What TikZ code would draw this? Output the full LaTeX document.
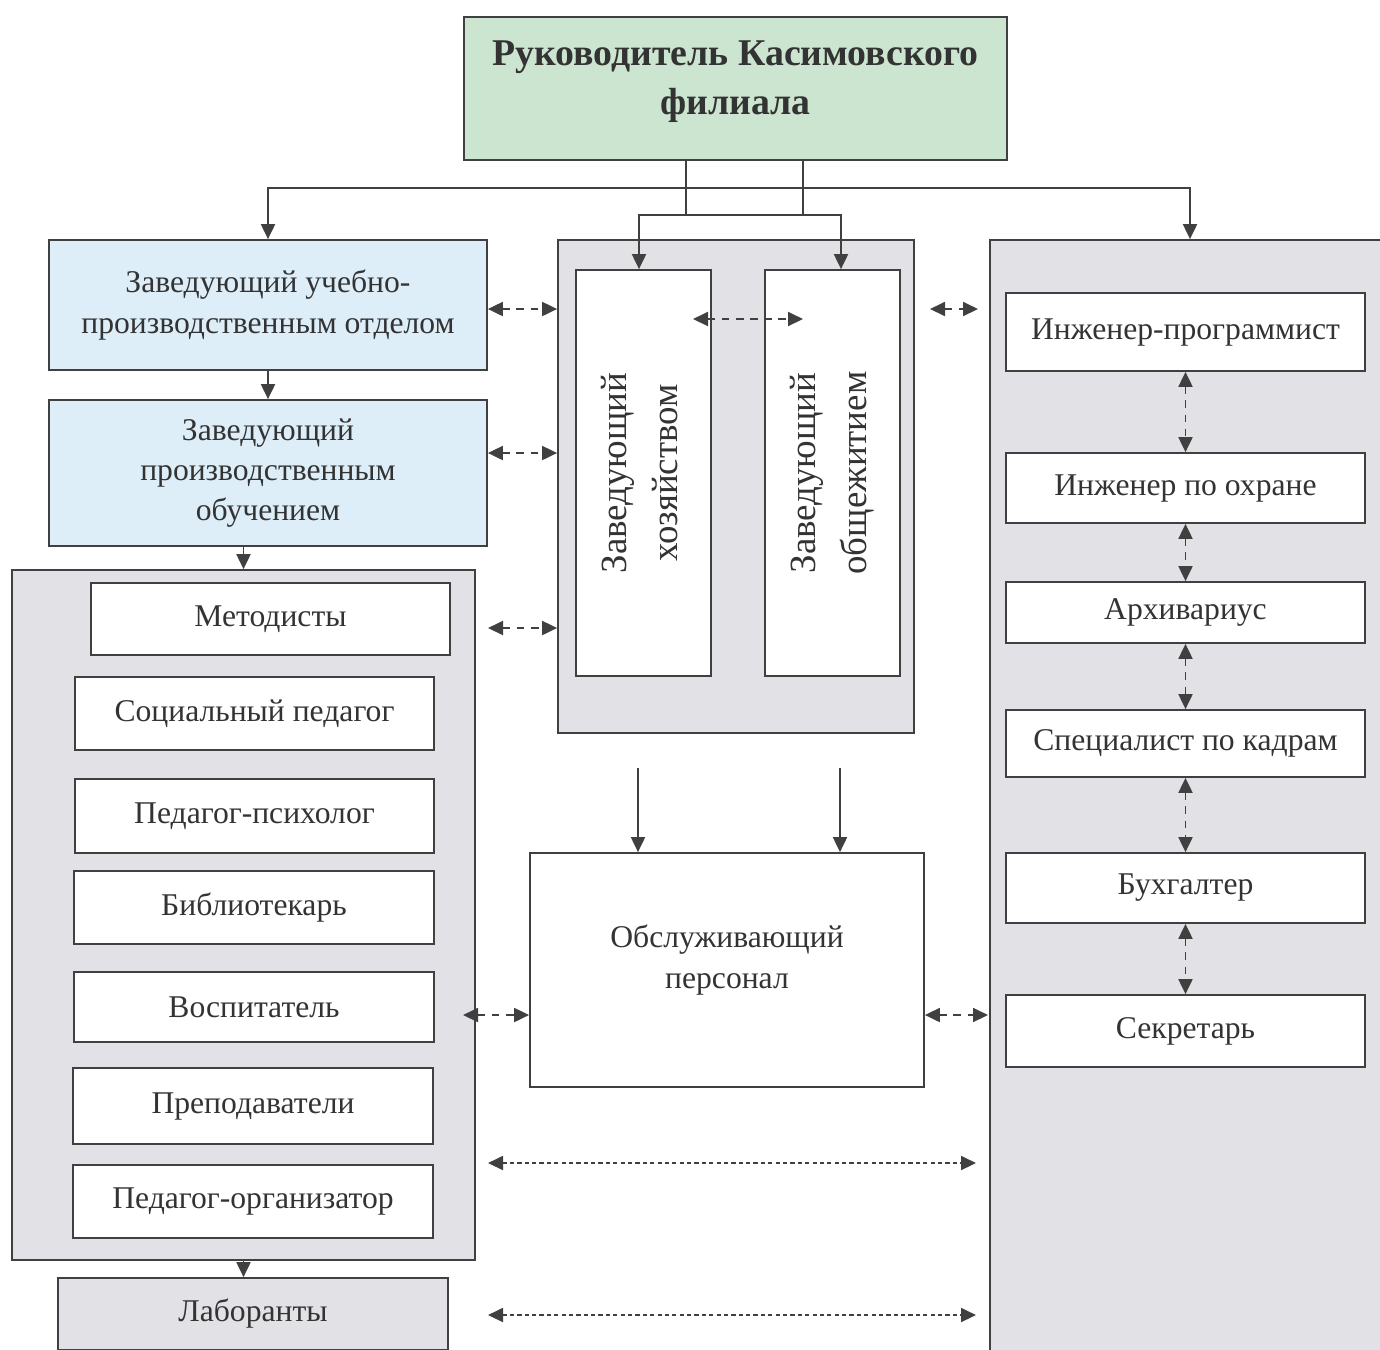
\documentclass[tikz,border=0pt]{standalone}
\usepackage{fontspec}
\usepackage{graphicx}
\setmainfont{Liberation Serif}
\usetikzlibrary{arrows.meta}
\definecolor{headgreen}{RGB}{204,229,209}
\definecolor{headblue}{RGB}{221,238,249}
\definecolor{panelgrey}{RGB}{226,226,230}

\begin{document}
\begin{tikzpicture}[x=0.2mm, y=-0.2mm,
    every node/.style={font=\fontsize{18}{23}\selectfont, text=black!80, align=center},
    box/.style={draw=black!75, line width=1pt, fill=white, inner sep=0pt},
    headbox/.style={box, fill=headgreen},
    bluebox/.style={box, fill=headblue},
    panel/.style={box, fill=panelgrey},
    line/.style={draw=black!75, line width=1.1pt},
    arr/.style={line, -{Triangle[length=3mm,width=2.8mm]}},
    twoway/.style={line, {Triangle[length=3mm,width=2.8mm]}-{Triangle[length=3mm,width=2.8mm]}},
    dd/.style={twoway, dash pattern=on 4.5pt off 3.5pt},
    fine/.style={twoway, dash pattern=on 2.4pt off 1.8pt}]
    \useasboundingbox (0,0) rectangle (1380,1349);

    % Head %
    \node[headbox, minimum width=108.6mm, minimum height=28.6mm, font=\bfseries\fontsize{21.5}{28}\selectfont] (head) at (735.5,88.5) {Руководитель Касимовского\\филиала\\[-16pt]};

    % Left column %
    \node[bluebox, minimum width=87.6mm, minimum height=26mm] (uchotd) at (268,305) {Заведующий учебно-\\производственным отделом};
    \node[bluebox, minimum width=87.6mm, minimum height=29.2mm] (proizv) at (268,473) {Заведующий\\производственным\\обучением};
    \node[panel, minimum width=92.6mm, minimum height=138mm] (lpanel) at (243.5,915) {};
    \node[box, minimum width=71.8mm, minimum height=14.4mm] (metod) at (270.5,619) {Методисты};
    \node[box, minimum width=71.8mm, minimum height=14.6mm] (socped) at (254.5,713.5) {Социальный педагог};
    \node[box, minimum width=71.8mm, minimum height=14.8mm] (psih) at (254.5,816) {Педагог-психолог};
    \node[box, minimum width=72mm, minimum height=14.6mm] (bibl) at (254,907.5) {Библиотекарь};
    \node[box, minimum width=72mm, minimum height=14mm] (vosp) at (254,1007) {Воспитатель};
    \node[box, minimum width=72mm, minimum height=15.2mm] (prep) at (253,1106) {Преподаватели};
    \node[box, minimum width=72mm, minimum height=14.6mm] (pedorg) at (253,1201.5) {Педагог-организатор};
    \node[panel, minimum width=78mm, minimum height=14.4mm] (labor) at (253,1314) {Лаборанты};

    % Middle column %
    \node[panel, minimum width=71.2mm, minimum height=98.6mm] (mpanel) at (736,486.5) {};
    \node[box, minimum width=27mm, minimum height=81.2mm, font=\fontsize{21}{25}\selectfont] (hoz) at (643.5,473) {\rotatebox{90}{\begin{tabular}{@{}c@{}}Заведующий\\[4pt]хозяйством\end{tabular}}};
    \node[box, minimum width=27mm, minimum height=81.2mm, font=\fontsize{21}{25}\selectfont] (obsh) at (832.5,473) {\rotatebox{90}{\begin{tabular}{@{}c@{}}Заведующий\\[4pt]общежитием\end{tabular}}};
    \node[box, minimum width=78.8mm, minimum height=46.8mm] (obsl) at (727,970) {Обслуживающий\\персонал\\[-8pt]};

    % Right column %
    \node[panel, minimum width=80mm, minimum height=224mm] (rpanel) at (1190,800) {};
    \node[box, minimum width=71.8mm, minimum height=15.6mm] (prog) at (1185.5,332) {Инженер-программист};
    \node[box, minimum width=71.8mm, minimum height=14mm] (ohr) at (1185.5,488) {Инженер по охране};
    \node[box, minimum width=71.8mm, minimum height=12.2mm] (arh) at (1185.5,612.5) {Архивариус};
    \node[box, minimum width=71.8mm, minimum height=13.4mm] (kadr) at (1185.5,743.5) {Специалист по кадрам};
    \node[box, minimum width=71.8mm, minimum height=14mm] (buh) at (1185.5,888) {Бухгалтер};
    \node[box, minimum width=71.8mm, minimum height=14.4mm] (sekr) at (1185.5,1031) {Секретарь};

    % Solid links %
    \coordinate (bus) at (0,188);
    \coordinate (jl) at (686,215);
    \coordinate (jr) at (803,215);
    \draw[line] (head.south -| jl) -- (jl);
    \draw[line] (head.south -| jr) -- (jr);
    \draw[twoway] (uchotd.north) |- (rpanel.north |- bus) -- (rpanel.north);
    \draw[twoway] ([xshift=-0.9mm]hoz.north) |- ([xshift=1.7mm]obsh.north |- jl) -- ([xshift=1.7mm]obsh.north);
    \draw[arr] (uchotd) -- (proizv);
    \draw[arr] (proizv.south -| lpanel.north) -- (lpanel.north);
    \draw[arr] (lpanel.south) -- (lpanel.south |- labor.north);
    \coordinate (d1) at (638,768);
    \coordinate (d2) at (840,768);
    \draw[arr] (d1) -- (d1 |- obsl.north);
    \draw[arr] (d2) -- (d2 |- obsl.north);

    % Dashed links %
    \draw[dd] ([yshift=-0.8mm]uchotd.east) -- ([yshift=-0.8mm]uchotd.east -| mpanel.west);
    \draw[dd] ([yshift=4mm]proizv.east) -- ([yshift=4mm]proizv.east -| mpanel.west);
    \coordinate (m1) at (488,628);
    \draw[dd] (m1) -- (m1 -| mpanel.west);
    \coordinate (h1) at (693,319);
    \coordinate (h2) at (803,319);
    \draw[dd] (h1) -- (h2);
    \coordinate (r1) at (930,309);
    \coordinate (r2) at (978,309);
    \draw[dd] (r1) -- (r2);
    \coordinate (s1) at (463,1015);
    \coordinate (s2) at (988,1015);
    \draw[dd] (s1) -- (s1 -| obsl.west);
    \draw[dd] (s2 -| obsl.east) -- (s2);
    \foreach \a/\b in {prog/ohr, ohr/arh, arh/kadr, kadr/buh, buh/sekr}
        \draw[dd] (\a) -- (\b);
    \coordinate (p1) at (488,1163);
    \coordinate (p2) at (976,1163);
    \coordinate (q1) at (488,1315);
    \coordinate (q2) at (976,1315);
    \draw[fine] (p1) -- (p2);
    \draw[fine] (q1) -- (q2);
\end{tikzpicture}
\end{document}
